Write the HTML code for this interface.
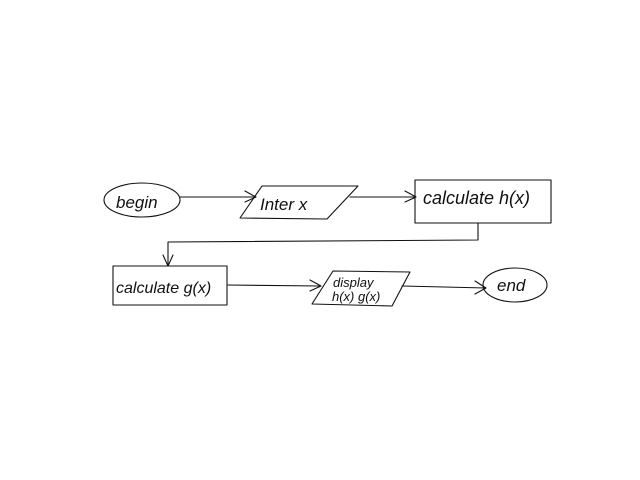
<!DOCTYPE html>
<html><head><meta charset="utf-8"><style>
html,body{margin:0;padding:0;background:#fff;}
svg{display:block;}
text{font-family:"Liberation Sans",sans-serif;font-style:italic;fill:#111;}
</style></head><body>
<svg width="640" height="480" viewBox="0 0 640 480" xmlns="http://www.w3.org/2000/svg">
<g fill="none" stroke="#111" stroke-width="1.1" stroke-linecap="round" stroke-linejoin="round">
<!-- begin -->
<ellipse cx="142" cy="200" rx="38" ry="17"/>
<!-- arrow begin -> inter -->
<path d="M180 197 L255 197"/>
<path d="M245 191 L256 197 L245 202"/>
<!-- inter x parallelogram -->
<path d="M262 186 L358 186 L327 219 L240 218 Z"/>
<!-- arrow -> calc h -->
<path d="M350 197 L416 197"/>
<path d="M405 191 L416 197 L405 202"/>
<!-- calc h box -->
<rect x="415" y="180" width="136" height="43"/>
<!-- connector -->
<path d="M478 223 L478 240 L168 242 L168 265"/>
<path d="M163 255 L168 266 L173 255"/>
<!-- calc g box -->
<rect x="113" y="266" width="114" height="39"/>
<!-- arrow -> display -->
<path d="M228 285 L320 286"/>
<path d="M310 280 L321 286 L310 291"/>
<!-- display parallelogram -->
<path d="M333 271 L410 272 L392 306 L312 304 Z"/>
<!-- arrow -> end -->
<path d="M402 286 L486 288"/>
<path d="M475 281 L486 288 L475 294"/>
<!-- end -->
<ellipse cx="515" cy="285" rx="32" ry="17"/>
</g>
<text x="116" y="208" font-size="17">begin</text>
<text x="260" y="210" font-size="17">Inter x</text>
<text x="423" y="204" font-size="18">calculate h(x)</text>
<text x="116" y="293" font-size="16">calculate g(x)</text>
<text x="333" y="287" font-size="13">display</text>
<text x="332" y="301" font-size="13">h(x) g(x)</text>
<text x="497" y="291" font-size="17">end</text>
</svg>
</body></html>
